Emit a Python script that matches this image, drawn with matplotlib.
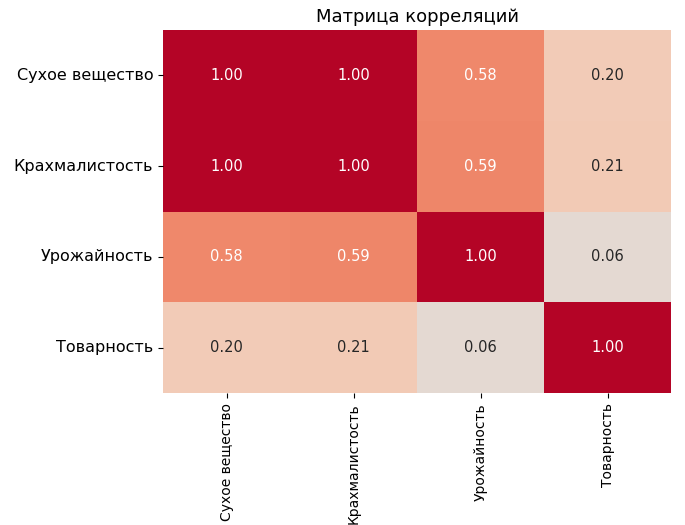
import numpy as np
import pandas as pd
import matplotlib
matplotlib.use("Agg")
import matplotlib.pyplot as plt
import seaborn as sns

# Признаки
labels = ["Сухое вещество", "Крахмалистость", "Урожайность", "Товарность"]

# Значения корреляций (по строкам)
row_dry = [1.00, 1.00, 0.58, 0.20]
row_starch = [1.00, 1.00, 0.59, 0.21]
row_yield = [0.58, 0.59, 1.00, 0.06]
row_market = [0.20, 0.21, 0.06, 1.00]

corr = pd.DataFrame([row_dry, row_starch, row_yield, row_market],
                    index=labels, columns=labels)

fig = plt.figure(figsize=(6.85, 5.25), dpi=100)
ax = fig.add_axes([0.238, 0.251, 0.742, 0.692])

sns.heatmap(corr, annot=True, fmt=".2f", cmap="coolwarm", vmin=-1, vmax=1,
            cbar=False, ax=ax, annot_kws={"size": 10.5})

ax.set_title("Матрица корреляций", fontsize=13)
ax.tick_params(axis="x", labelsize=10)
ax.tick_params(axis="y", labelsize=11.5)
plt.setp(ax.get_yticklabels(), rotation=0)
plt.setp(ax.get_xticklabels(), rotation=90)

fig.savefig("out.png", dpi=100)
